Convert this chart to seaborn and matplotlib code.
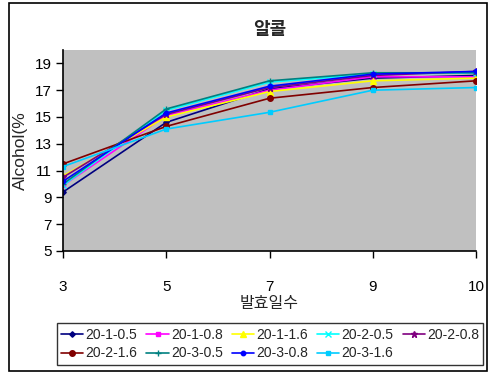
import matplotlib
matplotlib.use("Agg")
import matplotlib.pyplot as plt
from matplotlib.patches import Rectangle
import seaborn as sns
import pandas as pd

sns.set_theme(style="white")
plt.rcParams["font.family"] = ["Liberation Sans", "Noto Sans CJK KR"]
plt.rcParams["axes.unicode_minus"] = False

# Fermentation days (categorical axis)
days = ["3", "5", "7", "9", "10"]

# Alcohol content (%) per treatment
s_20_1_05 = [9.4, 14.6, 17.1, 17.9, 18.1]
s_20_1_08 = [9.9, 15.1, 17.0, 18.0, 18.0]
s_20_1_16 = [10.6, 15.0, 16.9, 17.7, 17.9]
s_20_2_05 = [9.9, 15.5, 17.6, 18.2, 18.3]
s_20_2_08 = [10.5, 15.2, 17.2, 18.1, 18.4]
s_20_2_16 = [11.5, 14.3, 16.4, 17.2, 17.7]
s_20_3_05 = [10.0, 15.6, 17.7, 18.3, 18.3]
s_20_3_08 = [10.2, 15.3, 17.3, 18.2, 18.4]
s_20_3_16 = [11.3, 14.1, 15.35, 17.0, 17.2]

series_names = ["20-1-0.5", "20-1-0.8", "20-1-1.6", "20-2-0.5", "20-2-0.8",
                "20-2-1.6", "20-3-0.5", "20-3-0.8", "20-3-1.6"]
series_values = [s_20_1_05, s_20_1_08, s_20_1_16, s_20_2_05, s_20_2_08,
                 s_20_2_16, s_20_3_05, s_20_3_08, s_20_3_16]

colors = ["#000080", "#FF00FF", "#FFFF00", "#00FFFF", "#800080",
          "#800000", "#008080", "#0000FF", "#00CCFF"]
markers = ["D", "s", "^", "x", "*", "o", "+", "o", "s"]
msizes = [2.8, 3.2, 4, 4, 4.5, 4, 5, 3.2, 3.2]

fig = plt.figure(figsize=(4.88, 3.74), dpi=100)
ax = fig.add_axes([63 / 488, 1 - 251 / 374, (476 - 63) / 488, (251 - 50) / 374])
ax.set_facecolor("#C0C0C0")

for name, vals, c, m, ms in zip(series_names, series_values, colors, markers, msizes):
    df = pd.DataFrame({"day": days, "alcohol": vals})
    sns.lineplot(data=df, x="day", y="alcohol", ax=ax, color=c, marker=m,
                 markersize=ms, markeredgecolor=c, markeredgewidth=1,
                 linewidth=1.2, label=name, sort=False)

ax.set_xlim(0, 4)
ax.set_ylim(5, 20)
ax.set_yticks([5, 7, 9, 11, 13, 15, 17, 19])

for side in ["top", "right"]:
    ax.spines[side].set_visible(False)
for side in ["left", "bottom"]:
    ax.spines[side].set_color("black")
    ax.spines[side].set_linewidth(1.2)

ax.tick_params(axis="y", which="both", left=True, direction="out", length=5,
               width=1, labelsize=11, pad=3, colors="black")
ax.tick_params(axis="x", which="both", bottom=True, direction="out", length=5,
               width=1, labelsize=11, pad=16, colors="black")

ax.set_title("알콜", fontsize=13, fontweight="bold", pad=11)
ax.set_xlabel("발효일수", fontsize=11.5, labelpad=1)
ax.set_ylabel("Alcohol(%", fontsize=12.5, labelpad=5)

# Legend laid out row by row: 5 entries in the first row, 4 in the second
handles, labels = ax.get_legend_handles_labels()
ax.get_legend().remove()
order = [0, 5, 1, 6, 2, 7, 3, 8, 4]
leg = fig.legend([handles[i] for i in order], [labels[i] for i in order],
                 loc="center", ncol=5,
                 bbox_to_anchor=(57 / 488, 3 / 374, (483 - 57) / 488, (371 - 317) / 374),
                 mode="expand", fontsize=10, frameon=True, fancybox=False,
                 handlelength=1.6, handletextpad=0.15, columnspacing=0.2,
                 borderaxespad=0, borderpad=0.3, labelspacing=0.35)
leg.get_frame().set_edgecolor("black")
leg.get_frame().set_linewidth(1)

# Chart-area border
fig.patches.append(Rectangle((9 / 488, 3 / 374), (487 - 9) / 488, (371 - 3) / 374,
                             transform=fig.transFigure, fill=False,
                             edgecolor="black", linewidth=1.2))

fig.savefig("out.png", dpi=100)
